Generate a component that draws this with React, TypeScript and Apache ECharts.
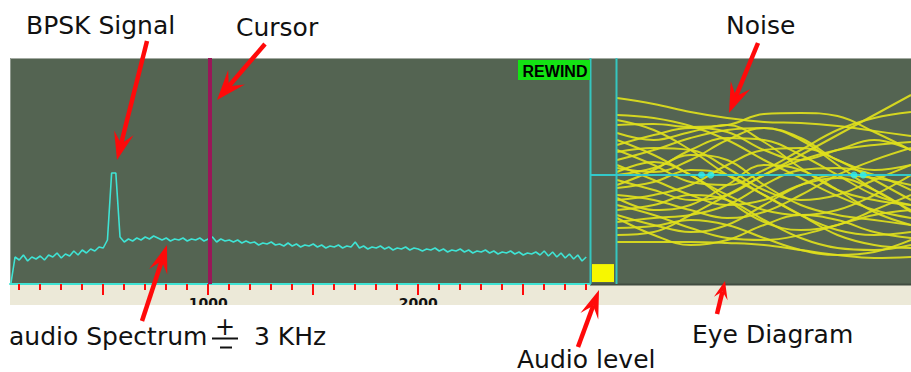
import React, { useEffect, useRef } from "react";
import * as echarts from "echarts";

// ---------- data ----------
const SPECTRUM_START_HZ = 60;
const SPECTRUM_STEP_HZ = 20;
const SPECTRUM_LEVEL = [
  0, 27, 24, 29, 23, 27, 25, 28, 24, 29,
  27, 31, 26, 30, 28, 33, 29, 34, 31, 35,
  33, 37, 36, 44, 111, 111, 47, 42, 45, 43,
  46, 44, 47, 45, 48, 46, 44, 46, 43, 45,
  44, 46, 43, 45, 44, 46, 43, 45, 47, 42,
  45, 43, 44, 42, 44, 41, 43, 41, 42, 39,
  41, 40, 42, 39, 40, 38, 41, 38, 40, 37,
  39, 38, 40, 37, 39, 36, 38, 37, 39, 36,
  38, 37, 42, 36, 38, 35, 37, 36, 38, 35,
  37, 34, 36, 35, 37, 34, 36, 35, 33, 35,
  34, 36, 33, 35, 32, 34, 33, 35, 32, 34,
  31, 33, 32, 34, 31, 33, 30, 32, 31, 33,
  30, 32, 29, 31, 30, 32, 29, 33, 28, 32,
  27, 31, 26, 30, 25, 29, 23, 27,
];
const FREQ_MIN = 56;
const FREQ_MAX = 2818;
const MINOR_TICKS_HZ = [100, 200, 300, 400, 600, 700, 800, 900, 1100, 1200, 1300, 1400, 1600, 1700, 1800, 1900, 2100, 2200, 2300, 2400, 2600, 2700, 2800];
const MAJOR_TICKS_HZ = [500, 1000, 1500, 2000, 2500];
const TICK_LABELS_HZ = [1000, 2000];
const CURSOR_HZ = 1005;
const AUDIO_LEVEL = [8];

const EYE_T = [0, 1, 2, 3, 4, 5, 6, 7, 8];
const EYE_TRACES = [
  [7.7, 7.1, 6.3, 5.7, 5.3, 5.2, 4.9, 4.4, 3.9],
  [6.0, 5.7, 4.9, 3.5, 1.5, -0.3, -2.1, -3.5, -4.3],
  [5.0, 5.1, 4.8, 5.0, 6.1, 6.2, 5.9, 4.3, 2.5],
  [4.2, 3.5, 4.3, 5.0, 3.3, 0.7, -1.5, -2.5, -3.0],
  [3.0, 4.0, 4.7, 4.3, 2.5, 1.5, 2.5, 3.5, 2.5],
  [1.5, 2.5, 3.7, 4.5, 4.7, 3.5, 1.0, -1.5, -3.5],
  [0.7, 0.3, 1.5, 3.5, 4.7, 3.7, 1.5, 0.5, 1.0],
  [0.0, 0.7, 2.0, 1.5, -1.0, -3.0, -4.0, -4.5, -5.0],
  [-0.5, -1.5, -2.5, -2.0, 0.0, 1.5, 2.5, 3.0, 3.3],
  [-1.3, -0.7, 0.5, 0.0, -2.0, -4.0, -5.5, -6.0, -5.7],
  [-2.0, -2.5, -3.5, -4.3, -3.7, -2.0, 0.0, 1.5, 2.7],
  [-2.5, -2.0, -1.0, 1.0, 2.5, 2.7, 1.5, -0.5, -2.5],
  [-3.0, -4.0, -5.3, -6.3, -6.5, -6.0, -5.0, -4.0, -3.5],
  [-3.5, -3.0, -2.0, -2.5, -4.5, -6.3, -7.3, -7.5, -7.0],
  [-4.0, -5.0, -5.7, -5.0, -3.0, -1.0, 0.0, -0.3, -1.0],
  [-4.7, -4.3, -4.0, -3.0, -1.0, 0.5, 0.7, 0.0, -1.5],
  [-5.3, -5.1, -4.5, -5.0, -6.3, -7.5, -8.0, -7.7, -6.5],
  [-6.7, -6.7, -6.7, -6.8, -7.0, -7.5, -8.0, -8.3, -8.2],
  [3.5, 2.0, 0.0, -2.0, -3.5, -4.0, -3.5, -2.0, 0.0],
  [2.3, 2.7, 2.5, 0.7, -1.5, -2.5, -2.0, -0.5, 1.0],
  [1.0, -0.5, -2.0, -3.0, -2.5, -1.0, -0.3, -1.5, -3.7],
  [5.5, 4.5, 2.5, 0.0, -2.0, -4.0, -6.0, -7.0, -7.3],
  [-1.0, 0.5, 2.5, 3.7, 3.5, 2.0, 0.0, -2.0, -3.0],
  [-6.0, -5.7, -4.0, -2.0, 0.0, 2.0, 4.0, 6.0, 8.0],
  [-4.3, -6.0, -7.0, -6.5, -5.0, -4.0, -4.5, -5.7, -6.3],
  [0.3, 1.3, 0.0, -2.5, -4.7, -5.5, -5.0, -3.5, -2.0],
  [2.5, 1.0, -0.7, -1.0, 0.5, 2.5, 4.5, 5.7, 6.3],
  [-2.3, -3.5, -3.0, -1.0, 1.0, 0.5, -1.5, -3.7, -5.0],
];
const EYE_SAMPLE_POINTS = [[2.3, 0], [2.55, 0], [6.45, 0], [6.7, 0]];

// ---------- layout / style ----------
const W = 911;
const H = 372;
const PANEL_BG = "#546452";
const RULER_BG = "#ECE9D8";
const CYAN = "#3fe3d4";
const RED = "#ff0a0a";
const TEXT_FONT = '"DejaVu Sans", Verdana, sans-serif';

const ARROWS = [
  // tail x, tail y, tip x, tip y, head length, head half width
  [147, 41, 117, 160, 28, 10],
  [265, 44, 217, 100, 30, 11],
  [758, 43, 729, 113, 30, 10.5],
  [142, 321, 167, 245, 28, 9.5],
  [578, 347, 599, 290, 28, 9.5],
  [717, 314, 725, 281, 18, 7],
];

function arrowElements(a: number[]) {
  const [tx, ty, px, py, L, Wd] = a;
  const dx = px - tx;
  const dy = py - ty;
  const len = Math.hypot(dx, dy);
  const ux = dx / len;
  const uy = dy / len;
  const nx = -uy;
  const ny = ux;
  const bx = px - ux * L;
  const by = py - uy * L;
  const N = L * 0.4;
  const cx = px - ux * (L - N);
  const cy = py - uy * (L - N);
  return [
    {
      type: "line",
      z: 30,
      shape: { x1: tx, y1: ty, x2: cx, y2: cy },
      style: { stroke: RED, lineWidth: 4.5 },
    },
    {
      type: "polygon",
      z: 30,
      shape: {
        points: [
          [px, py],
          [bx + nx * Wd, by + ny * Wd],
          [cx, cy],
          [bx - nx * Wd, by - ny * Wd],
        ],
      },
      style: { fill: RED },
    },
  ];
}

function label(text: string, x: number, y: number, size = 25) {
  return {
    type: "text",
    z: 30,
    style: {
      text,
      x,
      y,
      fill: "#111111",
      font: `${size}px ${TEXT_FONT}`,
      align: "left",
      verticalAlign: "middle",
    },
  };
}

export default function App() {
  const ref = useRef<HTMLDivElement>(null);

  useEffect(() => {
    if (!ref.current) return;
    const chart = echarts.init(ref.current, undefined, { renderer: "svg" });

    const spectrumData = SPECTRUM_LEVEL.map((v, i) => [SPECTRUM_START_HZ + i * SPECTRUM_STEP_HZ, v]);

    const eyeSeries = EYE_TRACES.map((trace) => ({
      type: "line",
      xAxisIndex: 3,
      yAxisIndex: 2,
      data: EYE_T.map((t, i) => [t, trace[i]]),
      smooth: 0.4,
      showSymbol: false,
      silent: true,
      lineStyle: { color: "#e0e01c", width: 2, opacity: 0.92 },
      z: 3,
    }));

    const graphics: any[] = [
      // panel background
      { type: "rect", z: -10, shape: { x: 10, y: 58, width: W - 10, height: 226 }, style: { fill: PANEL_BG } },
      // ruler
      { type: "rect", z: -10, shape: { x: 10, y: 284, width: W - 10, height: 21 }, style: { fill: RULER_BG } },
      { type: "line", z: -9, shape: { x1: 10, y1: 58.5, x2: W, y2: 58.5 }, style: { stroke: "#a3aaa2", lineWidth: 1 } },
      { type: "line", z: -9, shape: { x1: 10.5, y1: 58, x2: 10.5, y2: 284 }, style: { stroke: "#8e988d", lineWidth: 1 } },
      { type: "line", z: -9, shape: { x1: 590, y1: 284.5, x2: W, y2: 284.5 }, style: { stroke: "#414c40", lineWidth: 2 } },
      // audio level frame and centre line
      { type: "line", z: 5, shape: { x1: 590.5, y1: 58, x2: 590.5, y2: 284 }, style: { stroke: "#35c6bf", lineWidth: 2 } },
      { type: "line", z: 5, shape: { x1: 616.5, y1: 58, x2: 616.5, y2: 284 }, style: { stroke: "#35c6bf", lineWidth: 2 } },
      { type: "line", z: 5, shape: { x1: 590, y1: 175, x2: W, y2: 175 }, style: { stroke: "#33c9c9", lineWidth: 2 } },
      // REWIND button
      { type: "rect", z: 6, shape: { x: 518, y: 60, width: 72, height: 20 }, style: { fill: "#14e314" } },
      {
        type: "text",
        z: 7,
        style: {
          text: "REWIND",
          x: 555,
          y: 71,
          fill: "#000000",
          font: 'bold 16px "Liberation Sans", Arial, sans-serif',
          align: "center",
          verticalAlign: "middle",
        },
      },
      // clip of the ruler labels
      { type: "rect", z: 20, shape: { x: 0, y: 305, width: W, height: 14 }, style: { fill: "#ffffff" } },
      // annotations
      label("BPSK Signal", 26, 25),
      label("Cursor", 236, 27),
      label("Noise", 726, 25),
      label("audio Spectrum", 9, 336),
      label("3 KHz", 254, 336),
      label("Audio level", 517, 359),
      label("Eye Diagram", 692, 334),
      {
        type: "text",
        z: 30,
        style: { text: "+", x: 225, y: 327, fill: "#111111", font: `24px ${TEXT_FONT}`, align: "center", verticalAlign: "middle" },
      },
      { type: "line", z: 30, shape: { x1: 212, y1: 338.5, x2: 238, y2: 338.5 }, style: { stroke: "#111111", lineWidth: 2 } },
      { type: "line", z: 30, shape: { x1: 220, y1: 347.5, x2: 232, y2: 347.5 }, style: { stroke: "#111111", lineWidth: 2 } },
    ];
    ARROWS.forEach((a) => graphics.push(...arrowElements(a)));

    const option: any = {
      animation: false,
      backgroundColor: "#ffffff",
      grid: [
        { left: 10, top: 58, width: 580, height: 226, outerBoundsMode: "none" },
        { left: 592, top: 58, width: 22, height: 224, outerBoundsMode: "none" },
        { left: 617, top: 58, width: W - 617, height: 226, outerBoundsMode: "none" },
      ],
      xAxis: [
        {
          gridIndex: 0,
          type: "value",
          min: FREQ_MIN,
          max: FREQ_MAX,
          position: "bottom",
          axisLine: { show: true, lineStyle: { color: CYAN, width: 2 } },
          axisTick: { show: true, customValues: MINOR_TICKS_HZ, length: 6, lineStyle: { color: RED, width: 2 } },
          axisLabel: {
            show: true,
            customValues: TICK_LABELS_HZ,
            formatter: (v: number) => String(v),
            color: "#111111",
            fontWeight: "bold",
            fontSize: 14,
            fontFamily: '"DejaVu Sans", Verdana, sans-serif',
            margin: 12,
          },
          splitLine: { show: false },
        },
        {
          gridIndex: 0,
          type: "value",
          min: FREQ_MIN,
          max: FREQ_MAX,
          position: "bottom",
          axisLine: { show: false },
          axisTick: { show: true, customValues: MAJOR_TICKS_HZ, length: 11, lineStyle: { color: RED, width: 2 } },
          axisLabel: { show: false },
          splitLine: { show: false },
        },
        { gridIndex: 1, type: "category", data: ["level"], show: false },
        { gridIndex: 2, type: "value", min: 0, max: 8, show: false },
      ],
      yAxis: [
        { gridIndex: 0, type: "value", min: 0, max: 226, show: false },
        { gridIndex: 1, type: "value", min: 0, max: 100, show: false },
        { gridIndex: 2, type: "value", min: -10.9, max: 11.7, show: false },
      ],
      series: [
        {
          type: "line",
          xAxisIndex: 0,
          yAxisIndex: 0,
          data: spectrumData,
          showSymbol: false,
          silent: true,
          lineStyle: { color: CYAN, width: 1.6 },
          z: 4,
          markLine: {
            silent: true,
            symbol: ["none", "none"],
            label: { show: false },
            lineStyle: { color: "#9a1758", width: 4, type: "solid" },
            data: [{ xAxis: CURSOR_HZ }],
          },
        },
        {
          type: "bar",
          xAxisIndex: 2,
          yAxisIndex: 1,
          data: AUDIO_LEVEL,
          barWidth: "100%",
          silent: true,
          itemStyle: { color: "#f7f700" },
        },
        ...eyeSeries,
        {
          type: "scatter",
          xAxisIndex: 3,
          yAxisIndex: 2,
          data: EYE_SAMPLE_POINTS,
          symbolSize: 7,
          silent: true,
          itemStyle: { color: "#2ff0f0" },
          z: 6,
        },
      ],
      graphic: { elements: graphics },
    };

    chart.setOption(option);
    return () => chart.dispose();
  }, []);

  return (
    <div
      ref={ref}
      style={{ position: "fixed", left: 0, top: 0, width: W, height: H }}
    />
  );
}
